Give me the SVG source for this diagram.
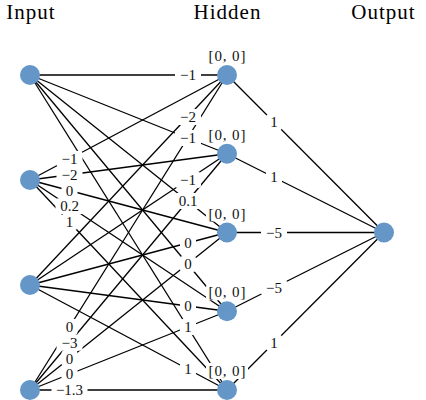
<svg xmlns="http://www.w3.org/2000/svg" width="426" height="400" viewBox="0 0 426 400">
<style>
.edge{stroke:#000;stroke-width:1.3;fill:none}
.box{fill:#fff}
.lt{font-family:"Liberation Serif","Times New Roman",serif;font-size:15px;text-anchor:middle;fill:#111}
.title{font-family:"Liberation Serif","Times New Roman",serif;font-size:21px;text-anchor:middle;fill:#000;letter-spacing:1px}
.node{fill:#6497c8}
</style>
<rect width="426" height="400" fill="#fff"/>
<g id="titles">
<text class="title" x="31" y="19">Input</text>
<text class="title" x="227.5" y="19">Hidden</text>
<text class="title" x="383.5" y="19">Output</text>
</g>
<g id="connectors">
<line class="edge" x1="30" y1="75" x2="227" y2="75"/>
<line class="edge" x1="30" y1="75" x2="227" y2="153.75"/>
<line class="edge" x1="30" y1="75" x2="227" y2="232.5"/>
<line class="edge" x1="30" y1="75" x2="227" y2="311.25"/>
<line class="edge" x1="30" y1="75" x2="227" y2="390"/>
<line class="edge" x1="30" y1="180" x2="227" y2="75"/>
<line class="edge" x1="30" y1="180" x2="227" y2="153.75"/>
<line class="edge" x1="30" y1="180" x2="227" y2="232.5"/>
<line class="edge" x1="30" y1="180" x2="227" y2="311.25"/>
<line class="edge" x1="30" y1="180" x2="227" y2="390"/>
<line class="edge" x1="30" y1="285" x2="227" y2="75"/>
<line class="edge" x1="30" y1="285" x2="227" y2="153.75"/>
<line class="edge" x1="30" y1="285" x2="227" y2="232.5"/>
<line class="edge" x1="30" y1="285" x2="227" y2="311.25"/>
<line class="edge" x1="30" y1="285" x2="227" y2="390"/>
<line class="edge" x1="30" y1="390" x2="227" y2="75"/>
<line class="edge" x1="30" y1="390" x2="227" y2="153.75"/>
<line class="edge" x1="30" y1="390" x2="227" y2="232.5"/>
<line class="edge" x1="30" y1="390" x2="227" y2="311.25"/>
<line class="edge" x1="30" y1="390" x2="227" y2="390"/>
<line class="edge" x1="227" y1="75" x2="384" y2="232.5"/>
<line class="edge" x1="227" y1="153.75" x2="384" y2="232.5"/>
<line class="edge" x1="227" y1="232.5" x2="384" y2="232.5"/>
<line class="edge" x1="227" y1="311.25" x2="384" y2="232.5"/>
<line class="edge" x1="227" y1="390" x2="384" y2="232.5"/>
</g>
<g id="edge-labels">
<g transform="translate(188,75)"><rect class="box" x="-13" y="-8" width="26" height="16" rx="3"/><text class="lt" y="5">−1</text></g>
<g transform="translate(188,138)"><rect class="box" x="-13" y="-8" width="26" height="16" rx="3"/><text class="lt" y="5">−1</text></g>
<g transform="translate(188,201)"><rect class="box" x="-14" y="-8" width="28" height="16" rx="3"/><text class="lt" y="5">0.1</text></g>
<g transform="translate(188,264)"><rect class="box" x="-8" y="-8" width="16" height="16" rx="3"/><text class="lt" y="5">0</text></g>
<g transform="translate(188,327)"><rect class="box" x="-8" y="-8" width="16" height="16" rx="3"/><text class="lt" y="5">1</text></g>
<g transform="translate(69.5,159)"><rect class="box" x="-13" y="-8" width="26" height="16" rx="3"/><text class="lt" y="5">−1</text></g>
<g transform="translate(69.5,174.75)"><rect class="box" x="-13" y="-8" width="26" height="16" rx="3"/><text class="lt" y="5">−2</text></g>
<g transform="translate(69.5,190.5)"><rect class="box" x="-8" y="-8" width="16" height="16" rx="3"/><text class="lt" y="5">0</text></g>
<g transform="translate(69.5,206.25)"><rect class="box" x="-14" y="-8" width="28" height="16" rx="3"/><text class="lt" y="5">0.2</text></g>
<g transform="translate(69.5,222)"><rect class="box" x="-8" y="-8" width="16" height="16" rx="3"/><text class="lt" y="5">1</text></g>
<g transform="translate(188,117)"><rect class="box" x="-13" y="-8" width="26" height="16" rx="3"/><text class="lt" y="5">−2</text></g>
<g transform="translate(188,180)"><rect class="box" x="-13" y="-8" width="26" height="16" rx="3"/><text class="lt" y="5">−1</text></g>
<g transform="translate(188,243)"><rect class="box" x="-8" y="-8" width="16" height="16" rx="3"/><text class="lt" y="5">0</text></g>
<g transform="translate(188,306)"><rect class="box" x="-8" y="-8" width="16" height="16" rx="3"/><text class="lt" y="5">0</text></g>
<g transform="translate(188,369)"><rect class="box" x="-8" y="-8" width="16" height="16" rx="3"/><text class="lt" y="5">1</text></g>
<g transform="translate(69.5,327)"><rect class="box" x="-8" y="-8" width="16" height="16" rx="3"/><text class="lt" y="5">0</text></g>
<g transform="translate(69.5,342.75)"><rect class="box" x="-13" y="-8" width="26" height="16" rx="3"/><text class="lt" y="5">−3</text></g>
<g transform="translate(69.5,358.5)"><rect class="box" x="-8" y="-8" width="16" height="16" rx="3"/><text class="lt" y="5">0</text></g>
<g transform="translate(69.5,374.25)"><rect class="box" x="-8" y="-8" width="16" height="16" rx="3"/><text class="lt" y="5">0</text></g>
<g transform="translate(69.5,390)"><rect class="box" x="-18" y="-8" width="36" height="16" rx="3"/><text class="lt" y="5">−1.3</text></g>
<g transform="translate(274,122.25)"><rect class="box" x="-8" y="-8" width="16" height="16" rx="3"/><text class="lt" y="5">1</text></g>
<g transform="translate(274,177.4)"><rect class="box" x="-8" y="-8" width="16" height="16" rx="3"/><text class="lt" y="5">1</text></g>
<g transform="translate(274,232.5)"><rect class="box" x="-13" y="-8" width="26" height="16" rx="3"/><text class="lt" y="5">−5</text></g>
<g transform="translate(274,287.6)"><rect class="box" x="-13" y="-8" width="26" height="16" rx="3"/><text class="lt" y="5">−5</text></g>
<g transform="translate(274,342.75)"><rect class="box" x="-8" y="-8" width="16" height="16" rx="3"/><text class="lt" y="5">1</text></g>
</g>
<g id="input1"><circle class="node" cx="30" cy="75" r="10"/></g>
<g id="input2"><circle class="node" cx="30" cy="180" r="10"/></g>
<g id="input3"><circle class="node" cx="30" cy="285" r="10"/></g>
<g id="input4"><circle class="node" cx="30" cy="390" r="10"/></g>
<g id="hidden1"><g transform="translate(227,56)"><rect class="box" x="-21" y="-8" width="42" height="16" rx="3"/><text class="lt" y="5" textLength="37" lengthAdjust="spacing">[0, 0]</text></g><circle class="node" cx="227" cy="75" r="10"/></g>
<g id="hidden2"><g transform="translate(227,134.75)"><rect class="box" x="-21" y="-8" width="42" height="16" rx="3"/><text class="lt" y="5" textLength="37" lengthAdjust="spacing">[0, 0]</text></g><circle class="node" cx="227" cy="153.75" r="10"/></g>
<g id="hidden3"><g transform="translate(227,213.5)"><rect class="box" x="-21" y="-8" width="42" height="16" rx="3"/><text class="lt" y="5" textLength="37" lengthAdjust="spacing">[0, 0]</text></g><circle class="node" cx="227" cy="232.5" r="10"/></g>
<g id="hidden4"><g transform="translate(227,292.25)"><rect class="box" x="-21" y="-8" width="42" height="16" rx="3"/><text class="lt" y="5" textLength="37" lengthAdjust="spacing">[0, 0]</text></g><circle class="node" cx="227" cy="311.25" r="10"/></g>
<g id="hidden5"><g transform="translate(227,371)"><rect class="box" x="-21" y="-8" width="42" height="16" rx="3"/><text class="lt" y="5" textLength="37" lengthAdjust="spacing">[0, 0]</text></g><circle class="node" cx="227" cy="390" r="10"/></g>
<g id="output1"><circle class="node" cx="384" cy="232.5" r="10"/></g>
</svg>
